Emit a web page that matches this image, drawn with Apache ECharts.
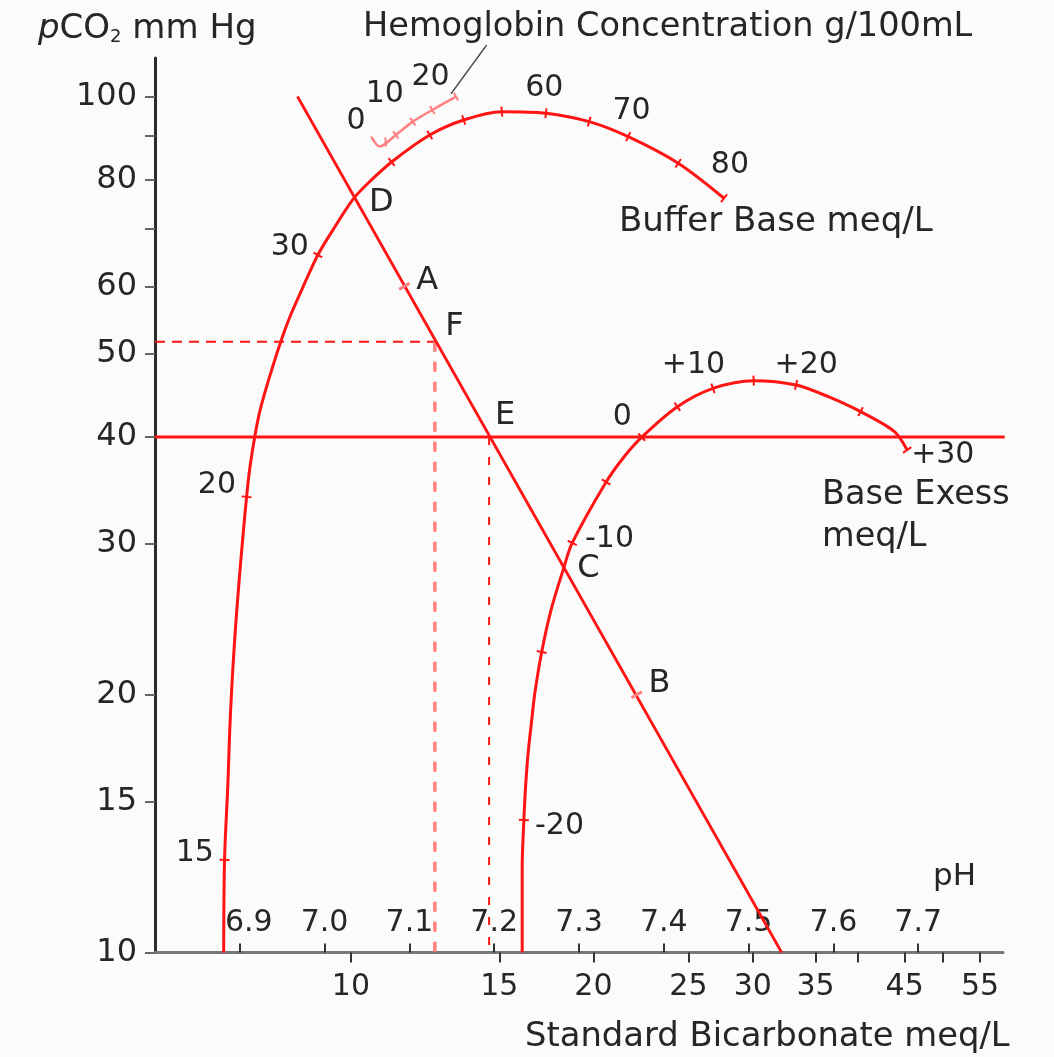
<!DOCTYPE html>
<html>
<head>
<meta charset="utf-8">
<script src="https://cdn.jsdelivr.net/npm/echarts@6/dist/echarts.min.js"></script>
<style>
  html, body { margin: 0; background: #fbfbfb; }
  #chart { width: 1054px; height: 1057px; }
</style>
</head>
<body>
<div id="chart"></div>
<script>
// pH axis ticks and pCO2 ticks
const phTicks = [6.9, 7.0, 7.1, 7.2, 7.3, 7.4, 7.5, 7.6, 7.7];
const pco2Ticks = [10, 15, 20, 30, 40, 50, 60, 70, 80, 90, 100];
const pco2Labels = [10, 15, 20, 30, 40, 50, 60, 80, 100];

// standard bicarbonate scale (value -> pH position on the bottom axis)
const bicarbValues = [10, 15, 20, 25, 30, 35, 40, 45, 50, 55];
const bicarbPH = [7.031, 7.206, 7.317, 7.429, 7.505, 7.579, 7.629, 7.684, 7.729, 7.773];
const bicarbShown = ['10', '15', '20', '25', '30', '35', '', '45', '', '55'];

// buffer base curve
const bbPH = [6.881, 6.882, 6.886, 6.888, 6.891, 6.895, 6.899, 6.903, 6.908, 6.912, 6.918, 6.924, 6.934, 6.947,
  6.959, 6.973, 6.992, 7.012, 7.033, 7.049, 7.079, 7.124, 7.164, 7.209, 7.261, 7.312, 7.358, 7.417, 7.471];
const bbPCO2 = [10, 12.83, 15.78, 18.05, 20.81, 24.01, 27.02, 30.09, 34.06, 36.91, 40.24, 43.03, 46.65, 51.26,
  55.26, 59.43, 65.28, 70.39, 75.70, 78.80, 83.84, 90.16, 93.87, 95.98, 95.59, 93.46, 89.75, 83.56, 76.05];
const bbTickPH = [6.882, 6.908, 6.992, 7.079, 7.124, 7.164, 7.209, 7.261, 7.312, 7.358, 7.417, 7.471];
const bbTickPCO2 = [12.83, 34.06, 65.28, 83.84, 90.16, 93.87, 95.98, 95.59, 93.46, 89.75, 83.56, 76.05];

// base excess curve
const bePH = [7.233, 7.233, 7.235, 7.237, 7.240, 7.244, 7.248, 7.256, 7.267, 7.282, 7.292, 7.332, 7.353, 7.374,
  7.416, 7.458, 7.506, 7.556, 7.594, 7.632, 7.672, 7.687];
const bePCO2 = [10, 12.59, 14.28, 15.61, 17.10, 18.59, 20.11, 22.44, 25.12, 28.13, 30.09, 35.45, 37.92, 40,
  43.41, 45.61, 46.56, 46.03, 44.6, 42.84, 40.60, 38.64];
const beTickPH = [7.235, 7.256, 7.292, 7.332, 7.374, 7.416, 7.458, 7.506, 7.556, 7.632, 7.687];
const beTickPCO2 = [14.28, 22.44, 30.09, 35.45, 40, 43.41, 45.61, 46.56, 46.03, 42.84, 38.64];

// hemoglobin scale
const hbPH = [7.055, 7.065, 7.084, 7.104, 7.127, 7.155];
const hbPCO2 = [89.75, 87.40, 90.16, 93.46, 96.43, 99.95];
const hbTickPH = [7.072, 7.084, 7.104, 7.127, 7.155];
const hbTickPCO2 = [88.5, 90.16, 93.46, 96.43, 99.95];
const hbLeaderPH = [7.149, 7.191];
const hbLeaderPCO2 = [100.7, 114.8];

// CO2 equilibration line and reference lines
const co2LinePH = [6.968, 7.539];
const co2LinePCO2 = [100, 10];
const normalPCO2 = 40;
const fPH = 7.130, fPCO2 = 51.7;
const ePH = 7.194, ePCO2 = 40;

// marked points on the CO2 line
const markNames = ['D', 'A', 'F', 'E', 'C', 'B'];
const markPH = [7.035, 7.094, 7.131, 7.193, 7.283, 7.368];
const markPCO2 = [75.7, 60, 51.7, 40, 28.1, 20];
const markLabelPH = [7.067, 7.121, 7.153, 7.213, 7.311, 7.395];
const markLabelPCO2 = [75.1, 61.0, 53.8, 42.35, 28.1, 20.6];
const pinkMarks = ['A', 'B'];

// scale numbers written along the curves
const curveLabelText = ['15', '20', '30', '0', '10', '20', '60', '70', '80', '-20', '-10', '0', '+10', '+20', '+30'];
const curveLabelPH = [6.847, 6.873, 6.959, 7.037, 7.071, 7.125, 7.259, 7.362, 7.478, 7.277, 7.336, 7.351, 7.435, 7.568, 7.729];
const curveLabelPCO2 = [13.07, 35.13, 66.7, 93.5, 100.5, 105.2, 102.2, 96.0, 83.2, 14.06, 30.42, 42.23, 48.57, 48.57, 38.13];

const RED = '#ff1414';
const PINK = '#ff8080';
const TXT = '#262626';
const FONT = 'DejaVu Sans';

const zip = (xs, ys) => xs.map((x, i) => [x, ys[i]]);

const chart = echarts.init(document.getElementById('chart'));

function lineSeries(id, data, style, z) {
  return {
    id, type: 'line', data, showSymbol: false, symbol: 'none', silent: true,
    lineStyle: style, z: z || 2, clip: false
  };
}

function tickSeries(id, xs, ys, color, size) {
  return {
    id, type: 'scatter', symbol: 'rect', symbolSize: size || [2, 10],
    data: zip(xs, ys), itemStyle: { color, opacity: 1 }, silent: true, z: 4
  };
}

function textSeries(id, names, xs, ys, size) {
  return {
    id, type: 'scatter', symbolSize: 0, silent: true, z: 5,
    itemStyle: { opacity: 1 },
    data: names.map((t, i) => ({ name: t, value: [xs[i], ys[i]] })),
    label: { show: true, position: 'inside', formatter: p => p.name, color: TXT, fontFamily: FONT, fontSize: size }
  };
}

const pinkX = markNames.map((n, i) => pinkMarks.includes(n) ? markPH[i] : null).filter(v => v !== null);
const pinkY = markNames.map((n, i) => pinkMarks.includes(n) ? markPCO2[i] : null).filter(v => v !== null);

const word = size => size + 'px "DejaVu Sans"';

const option = {
  animation: false,
  backgroundColor: '#fbfbfb',
  grid: { left: 155, right: 51, top: 58, bottom: 104.5 },
  xAxis: [
    {
      type: 'value', min: 6.8, max: 7.8, position: 'bottom',
      splitLine: { show: false },
      axisLine: { show: true, onZero: false, lineStyle: { color: '#777', width: 3 } },
      axisTick: { show: true, inside: true, length: 9, customValues: phTicks, lineStyle: { color: '#333', width: 2 } },
      axisLabel: {
        inside: true, margin: 14, customValues: phTicks, color: TXT, fontFamily: FONT, fontSize: 30,
        // first label sits a little to the right, clear of the curve
        formatter: v => v < 6.95 ? '{first|' + v.toFixed(1) + '}' : v.toFixed(1),
        rich: { first: { fontFamily: FONT, fontSize: 30, color: TXT, padding: [0, 0, 0, 18] } }
      }
    },
    {
      type: 'value', min: 6.8, max: 7.8, position: 'bottom',
      splitLine: { show: false },
      axisLine: { show: false, onZero: false },
      axisTick: { show: true, length: 10, customValues: bicarbPH, lineStyle: { color: '#333', width: 2 } },
      axisLabel: {
        margin: 20, customValues: bicarbPH, color: TXT, fontFamily: FONT, fontSize: 30,
        formatter: v => {
          let best = 0;
          bicarbPH.forEach((p, i) => { if (Math.abs(p - v) < Math.abs(bicarbPH[best] - v)) best = i; });
          return bicarbShown[best];
        }
      }
    }
  ],
  yAxis: {
    type: 'log', logBase: 10, min: 10, max: 110.9,
    splitLine: { show: false },
    axisLine: { show: true, lineStyle: { color: '#2b2b2b', width: 3 } },
    axisTick: { show: true, length: 10, customValues: pco2Ticks, lineStyle: { color: '#666', width: 2 } },
    axisLabel: { margin: 18, customValues: pco2Labels, color: TXT, fontFamily: FONT, fontSize: 32 }
  },
  graphic: [
    { type: 'text', left: 38, top: 12, style: {
      text: '{i|p}CO{s|2} mm Hg', fill: TXT, font: word(34),
      rich: { i: { fontStyle: 'italic', fontSize: 34, fontFamily: FONT }, s: { fontSize: 18, fontFamily: FONT, verticalAlign: 'bottom', lineHeight: 14 } }
    } },
    { type: 'text', left: 363, top: 10, style: { text: 'Hemoglobin Concentration g/100mL', fill: TXT, font: word(33.6) } },
    { type: 'text', left: 619, top: 205, style: { text: 'Buffer Base meq/L', fill: TXT, font: word(34) } },
    { type: 'text', left: 822, top: 478, style: { text: 'Base Exess', fill: TXT, font: word(33.5) } },
    { type: 'text', left: 822, top: 520, style: { text: 'meq/L', fill: TXT, font: word(33.5) } },
    { type: 'text', left: 933, top: 861, style: { text: 'pH', fill: TXT, font: word(31) } },
    { type: 'text', left: 525, top: 1020, style: { text: 'Standard Bicarbonate meq/L', fill: TXT, font: word(33.8) } }
  ],
  series: [
    Object.assign(lineSeries('bb', zip(bbPH, bbPCO2), { color: RED, width: 3 }, 3), { smooth: 0.3 }),
    Object.assign(lineSeries('be', zip(bePH, bePCO2), { color: RED, width: 3 }, 3), { smooth: 0.3 }),
    lineSeries('co2', zip(co2LinePH, co2LinePCO2), { color: RED, width: 2.8 }, 3),
    lineSeries('n40', [[6.8, normalPCO2], [7.802, normalPCO2]], { color: RED, width: 3 }, 3),
    lineSeries('fh', [[6.8, fPCO2], [fPH, fPCO2]], { color: RED, width: 2, type: [10, 7] }, 2),
    lineSeries('fv', [[fPH, fPCO2], [fPH, 10]], { color: PINK, width: 3.5, type: [10, 10] }, 2),
    lineSeries('ev', [[ePH, ePCO2], [ePH, 10]], { color: RED, width: 2, type: [8, 12] }, 2),
    Object.assign(lineSeries('hb', zip(hbPH, hbPCO2), { color: PINK, width: 2.5 }, 3), { smooth: 0.3 }),
    lineSeries('lead', zip(hbLeaderPH, hbLeaderPCO2), { color: '#444', width: 1.5 }, 3),
    tickSeries('bbTicks', bbTickPH, bbTickPCO2, RED),
    tickSeries('beTicks', beTickPH, beTickPCO2, RED),
    tickSeries('hbTicks', hbTickPH, hbTickPCO2, PINK, [2, 9]),
    tickSeries('pinkMarks', pinkX, pinkY, PINK, [3, 12]),
    textSeries('curveLabels', curveLabelText, curveLabelPH, curveLabelPCO2, 30),
    textSeries('markLabels', markNames, markLabelPH, markLabelPCO2, 32)
  ]
};

chart.setOption(option);

// rotate tick marks so they cross their curve
function rotated(tx, ty, cx, cy) {
  const px = (x, y) => chart.convertToPixel({ xAxisIndex: 0, yAxisIndex: 0 }, [x, y]);
  return tx.map((x, k) => {
    const y = ty[k];
    let best = 0, bd = Infinity;
    cx.forEach((c, i) => {
      const d = Math.abs(c - x) + Math.abs(Math.log10(cy[i]) - Math.log10(y));
      if (d < bd) { bd = d; best = i; }
    });
    const i0 = Math.max(best - 1, 0), i1 = Math.min(best + 1, cx.length - 1);
    const a = px(cx[i0], cy[i0]), b = px(cx[i1], cy[i1]);
    const angle = Math.atan2(-(b[1] - a[1]), b[0] - a[0]) * 180 / Math.PI;
    return { value: [x, y], symbolRotate: angle };
  });
}

chart.setOption({
  series: [
    { id: 'bbTicks', data: rotated(bbTickPH, bbTickPCO2, bbPH, bbPCO2) },
    { id: 'beTicks', data: rotated(beTickPH, beTickPCO2, bePH, bePCO2) },
    { id: 'hbTicks', data: rotated(hbTickPH, hbTickPCO2, hbPH, hbPCO2) },
    { id: 'pinkMarks', data: rotated(pinkX, pinkY, co2LinePH, co2LinePCO2) }
  ]
});
</script>
</body>
</html>
